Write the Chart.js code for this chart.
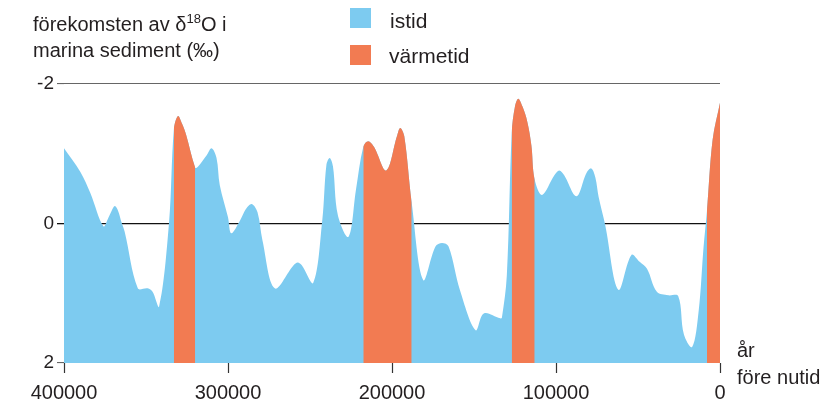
<!DOCTYPE html>
<html>
<head>
<meta charset="utf-8">
<title>istid / värmetid</title>
<script src="https://cdn.jsdelivr.net/npm/chart.js@4.4.0/dist/chart.umd.min.js"></script>
<style>
    html, body { margin: 0; padding: 0; background: #fff; }
</style>
</head>
<body>
<canvas id="myChart" width="831" height="407"></canvas>
<script>
// år före nutid (x) och delta-18O (y)
var years = [400000, 390000, 384000, 376000, 373000, 371000, 369000, 367000, 365000, 363000, 355000, 349000, 346000, 342000, 336000,
    333000, 330500, 328000, 325500, 320000, 318500, 313000, 310000, 307000, 305000, 300000, 298000, 292500, 289000, 285500, 282000, 279000, 271500,
    260000, 257500, 255000, 248000, 242500, 240000, 238000, 236000, 233000, 226500, 222000,
    217500, 214500, 211000, 203500, 197000, 195000, 192500, 188000,
    181000, 173500, 169500, 165500, 158500, 149000, 144000, 134000, 133000, 130000,
    127000, 125000, 123000, 120500, 117500, 115000, 113000,
    108500, 101000, 98000, 95000, 87500, 81500, 78500, 76000, 74000, 70000, 62000, 54000, 49000, 44500, 38500, 31500, 25500, 22000,
    17000, 13000, 10000, 8000, 4500, 0];
var d18O = [-1.08, -0.74, -0.44, 0.04, -0.08, -0.18, -0.25, -0.18, -0.02, 0.12, 0.93, 0.93, 0.98, 1.19, 0.0,
    -1.35, -1.54, -1.43, -1.27, -0.80, -0.81, -0.98, -1.08, -0.94, -0.55, -0.09, 0.14, -0.05, -0.21, -0.28, -0.16, 0.24, 0.93,
    0.60, 0.56, 0.60, 0.85, -0.05, -0.84, -0.94, -0.82, -0.12, 0.19, -0.48,
    -1.10, -1.18, -1.10, -0.76, -1.25, -1.37, -1.25, -0.30,
    0.81, 0.33, 0.28, 0.33, 0.96, 1.53, 1.29, 1.36, 1.35, 0.75,
    -1.30, -1.68, -1.79, -1.68, -1.46, -1.12, -0.63,
    -0.41, -0.69, -0.76, -0.69, -0.39, -0.72, -0.79, -0.66, -0.38, 0.02, 0.95, 0.45, 0.55, 0.65, 0.98, 1.03, 1.04, 1.59,
    1.77, 1.25, 0.33, -0.17, -1.20, -1.73];

// värmetider (från - till, år före nutid)
var warmFrom = [333000, 217500, 127000, 8000];
var warmTo = [320000, 188000, 113000, 0];

var xTicks = [400000, 300000, 200000, 100000, 0];
var yTicks = [-2, 0, 2];

var BLUE = '#7dcbf0';
var ORANGE = '#f27b52';
var TXT = '#231f20';
var FONT = '"Liberation Sans", Arial, sans-serif';

function isWarm(a, b) {
    for (var i = 0; i < warmFrom.length; i++) {
        if (a <= warmFrom[i] && b >= warmTo[i]) return true;
    }
    return false;
}

// rubriker, förklaring och axeltext
const textPlugin = {
    id: 'texter',
    afterDraw(chart) {
        const ctx = chart.ctx;
        ctx.save();
        ctx.fillStyle = TXT;
        ctx.textAlign = 'left';
        ctx.textBaseline = 'alphabetic';

        // y-axelns rubrik med upphöjt 18
        ctx.font = '20px ' + FONT;
        var x = 33;
        var s1 = 'förekomsten av δ';
        ctx.fillText(s1, x, 31);
        x += ctx.measureText(s1).width;
        ctx.font = '13px ' + FONT;
        ctx.fillText('18', x, 23);
        x += ctx.measureText('18').width;
        ctx.font = '20px ' + FONT;
        ctx.fillText('O i', x, 31);
        ctx.fillText('marina sediment (‰)', 33, 57);

        // förklaring
        ctx.fillStyle = BLUE;
        ctx.fillRect(350, 8, 21, 20);
        ctx.fillStyle = ORANGE;
        ctx.fillRect(350, 45, 21, 20);
        ctx.fillStyle = TXT;
        ctx.font = '21px ' + FONT;
        ctx.fillText('istid', 390, 28);
        ctx.fillText('värmetid', 389, 63);

        // x-axelns rubrik
        ctx.font = '20px ' + FONT;
        ctx.fillText('år', 737, 357);
        ctx.fillText('före nutid', 737, 384);
        ctx.restore();
    }
};

var points = years.map(function (y, i) { return { x: y, y: d18O[i] }; });
var curve = { borderWidth: 0, pointRadius: 0, tension: 0.35, fill: { value: 2 } };

var myChart = new Chart(document.getElementById('myChart'), {
    type: 'line',
    data: {
        datasets: [
            // värmetider ovanpå, resten genomskinligt
            Object.assign({
                data: points,
                backgroundColor: 'rgba(0,0,0,0)',
                segment: {
                    backgroundColor: ctx => isWarm(ctx.p0.parsed.x, ctx.p1.parsed.x) ? ORANGE : 'rgba(0,0,0,0)'
                }
            }, curve),
            // hela ytan blå under
            Object.assign({ data: points, backgroundColor: BLUE }, curve)
        ]
    },
    options: {
        responsive: false,
        devicePixelRatio: 1,
        animation: false,
        layout: { padding: { top: 84, right: 111, left: 0, bottom: 0 } },
        plugins: { legend: { display: false }, tooltip: { enabled: false } },
        scales: {
            x: {
                type: 'linear',
                reverse: true,
                min: 0,
                max: 400000,
                afterBuildTicks: s => { s.ticks = xTicks.map(v => ({ value: v })); },
                afterFit: s => { s.height = 44; },
                ticks: {
                    autoSkip: false,
                    maxRotation: 0,
                    padding: 8,
                    color: TXT,
                    font: { family: FONT, size: 20 },
                    callback: v => String(v)
                },
                grid: { drawOnChartArea: false, drawTicks: true, tickLength: 10, tickColor: '#333', tickWidth: 1.2 },
                border: { display: false }
            },
            y: {
                type: 'linear',
                reverse: true,
                min: -2,
                max: 2,
                z: 1,
                afterBuildTicks: s => { s.ticks = yTicks.map(v => ({ value: v })); },
                afterFit: s => { s.width = 64; },
                ticks: {
                    padding: 3,
                    color: TXT,
                    font: { family: FONT, size: 19 },
                    callback: v => String(v)
                },
                grid: {
                    color: c => c.tick && c.tick.value === 0 ? '#111' : '#666',
                    lineWidth: c => c.tick && c.tick.value === 0 ? 1.3 : 1.1,
                    tickLength: 7
                },
                border: { display: false }
            }
        }
    },
    plugins: [textPlugin]
});
</script>
</body>
</html>
